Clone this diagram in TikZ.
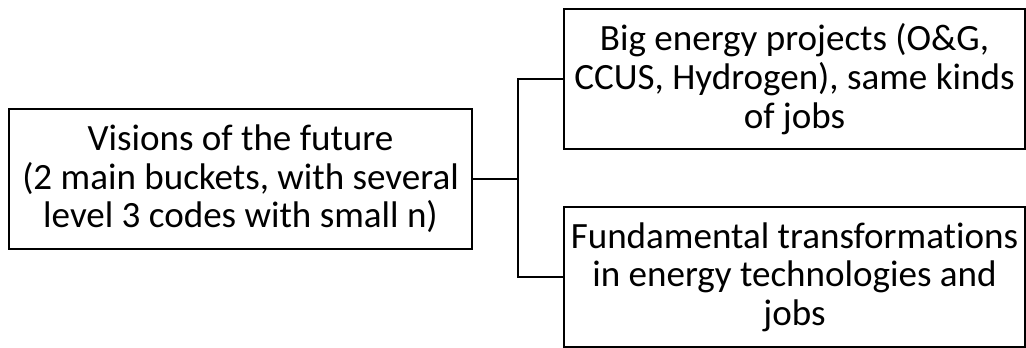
\documentclass[tikz,border=0pt]{standalone}
\usepackage{fontspec}
\setmainfont{Carlito}[Ligatures=NoCommon]
\begin{document}
\begin{tikzpicture}[x=0.75pt,y=-0.75pt,
  box/.style={draw=black,line width=2.1pt,fill=white,rectangle,inner sep=0pt,
    align=center,font=\fontsize{27.8pt}{29pt}\selectfont},
  link/.style={draw=black,line width=2.1pt}]
  \useasboundingbox (0,0) rectangle (1026,348);
  \node[box,minimum width=463*0.75pt,minimum height=140*0.75pt] (vis) at (240.5,179)
    {Visions of the future\\(2 main buckets, with several\\level 3 codes with small n)};
  \node[box,minimum width=461*0.75pt,minimum height=140*0.75pt] (big) at (794.5,79)
    {Big energy projects (O\&G,\\CCUS, Hydrogen), same kinds\\of jobs};
  \node[box,minimum width=461*0.75pt,minimum height=140*0.75pt] (fun) at (794.5,277)
    {Fundamental transformations\\in energy technologies and\\jobs};
  \coordinate (j) at (518,179);
  \draw[link] (vis.east) -- (j);
  \draw[link] (big.west) -| (j) |- (fun.west);
\end{tikzpicture}
\end{document}
